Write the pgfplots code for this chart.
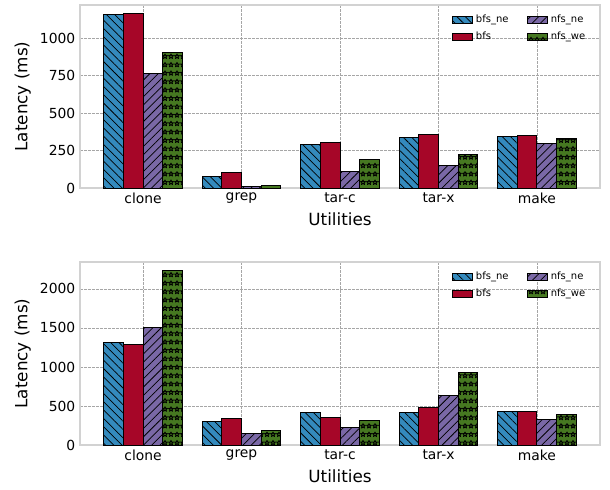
\documentclass[border=0pt]{standalone}
\usepackage{pgfplots}
\pgfplotsset{compat=1.18}
\usepackage{pgfplotstable}
\usepackage{fontspec}
\setmainfont{DejaVu Sans}
\usetikzlibrary{patterns,patterns.meta}

\definecolor{cbne}{HTML}{348ABD}
\definecolor{cbfs}{HTML}{A60628}
\definecolor{cnne}{HTML}{7A68A6}
\definecolor{cnwe}{HTML}{467821}

\tikzdeclarepattern{
  name=ostars,
  type=uncolored,
  bounding box={(-0.5pt,-0.5pt) and (5pt,7pt)},
  tile size={(4.5pt,6.3pt)},
  code={
    \pgfsetlinewidth{0.65pt}
    \pgfsetroundjoin
    \pgfpathmoveto{\pgfqpoint{2.25pt}{5.0pt}}
    \pgfpathlineto{\pgfqpoint{2.72pt}{3.80pt}}
    \pgfpathlineto{\pgfqpoint{4.06pt}{3.74pt}}
    \pgfpathlineto{\pgfqpoint{3.01pt}{2.90pt}}
    \pgfpathlineto{\pgfqpoint{3.37pt}{1.61pt}}
    \pgfpathlineto{\pgfqpoint{2.25pt}{2.35pt}}
    \pgfpathlineto{\pgfqpoint{1.13pt}{1.61pt}}
    \pgfpathlineto{\pgfqpoint{1.49pt}{2.90pt}}
    \pgfpathlineto{\pgfqpoint{0.44pt}{3.74pt}}
    \pgfpathlineto{\pgfqpoint{1.78pt}{3.80pt}}
    \pgfpathclose
    \pgfusepath{stroke}
  }
}

\pgfplotstableread{
x bfsne bfs nfsne nfswe
0 1156 1166 765 904
1 80 103 12 15
2 293 302 113 188
3 336 354 150 221
4 342 347 295 329
}\toptable

\pgfplotstableread{
x bfsne bfs nfsne nfswe
0 1314 1293 1503 2235
1 295 343 150 188
2 411 356 227 308
3 415 484 629 925
4 424 424 325 389
}\bottable

\pgfplotsset{
  mystyle/.style={
    scale only axis, width=390pt, height=137.25pt,
    anchor=north west,
    ybar, bar width=0.2,
    xmin=-0.64, xmax=4.64, ymin=0,
    xtick={0,1,2,3,4}, xticklabels={clone,grep,tar-c,tar-x,make},
    grid=major,
    grid style={gray!70, line width=0.45pt, dash pattern=on 2pt off 1pt},
    axis line style={gray!35, line width=1pt},
    major tick length=0pt,
    tick label style={font=\fontsize{10.4}{12}\selectfont},
    label style={font=\fontsize{12.6}{15}\selectfont},
    xlabel={Utilities}, ylabel={Latency (ms)},
    /pgf/number format/assume math mode=true,
    /pgf/number format/1000 sep={},
    transpose legend,
    legend columns=2,
    legend cell align=left,
    legend style={at={(0.985,0.975)}, anchor=north east, draw=none, fill=none,
      font=\fontsize{7.5}{9}\selectfont, /tikz/every even column/.append style={column sep=12pt},
      row sep=1.5pt},
    legend image code/.code={\draw[#1, bar shift=0pt] (0pt,-2.7pt) rectangle (15pt,2.7pt);},
  },
  sbne/.style={draw=black, line width=0.75pt, fill=cbne, bar shift=-0.3,
    postaction={pattern={Lines[angle=-45,distance=4.4pt,line width=0.55pt]}, pattern color=black}},
  sbfs/.style={draw=black, line width=0.75pt, fill=cbfs, bar shift=-0.1},
  snne/.style={draw=black, line width=0.75pt, fill=cnne, bar shift=0.1,
    postaction={pattern={Lines[angle=45,distance=4.4pt,line width=0.55pt]}, pattern color=black}},
  snwe/.style={draw=black, line width=0.75pt, fill=cnwe, bar shift=0.3,
    postaction={pattern=ostars, pattern color=black}},
}

\begin{document}
\begin{tikzpicture}
\begin{axis}[mystyle, at={(0pt,0pt)}, ymax=1220, ytick={0,250,500,750,1000}]
\addplot[sbne] table[x=x,y=bfsne]{\toptable};
\addplot[sbfs] table[x=x,y=bfs]{\toptable};
\addplot[snne] table[x=x,y=nfsne]{\toptable};
\addplot[snwe] table[x=x,y=nfswe]{\toptable};
\legend{bfs\_ne,bfs,nfs\_ne,nfs\_we}
\end{axis}
\begin{axis}[mystyle, at={(0pt,-192.75pt)}, ymax=2345, ytick={0,500,1000,1500,2000}]
\addplot[sbne] table[x=x,y=bfsne]{\bottable};
\addplot[sbfs] table[x=x,y=bfs]{\bottable};
\addplot[snne] table[x=x,y=nfsne]{\bottable};
\addplot[snwe] table[x=x,y=nfswe]{\bottable};
\legend{bfs\_ne,bfs,nfs\_ne,nfs\_we}
\end{axis}
\path (-60pt,3.75pt) rectangle (397.5pt,-363pt);
\end{tikzpicture}
\end{document}
